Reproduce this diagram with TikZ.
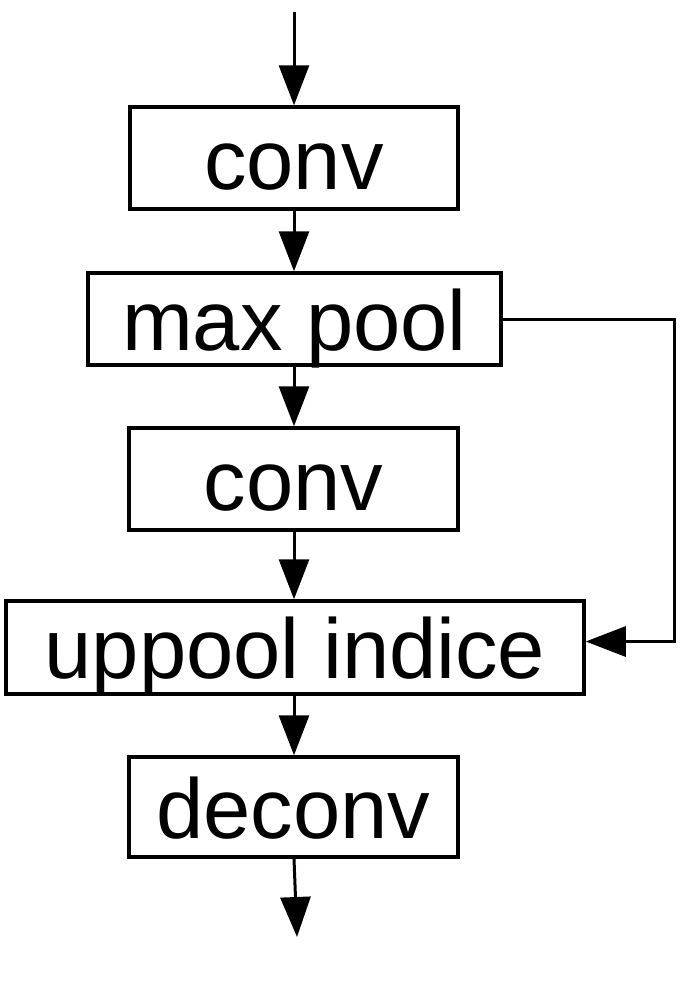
\documentclass[tikz,border=0pt]{standalone}
\usepackage{fontspec}
\setmainfont{Liberation Sans}
\usetikzlibrary{arrows.meta}
\begin{document}
\begin{tikzpicture}[x=1pt,y=-1pt,
  blk/.style={draw, line width=3.5pt, rectangle, inner sep=0pt, text height=62pt, text depth=0pt, font=\fontsize{85}{100}\selectfont},
  flow/.style={line width=3pt, -{Triangle[length=40pt,width=30pt]}}]
\useasboundingbox (0,0) rectangle (687,999);
\node[blk, minimum width=328pt, minimum height=102pt] (c1) at (294,158) {conv};
\node[blk, minimum width=413pt, minimum height=92pt] (mp) at (294.5,319) {max pool};
\node[blk, minimum width=329pt, minimum height=102pt] (c2) at (293.5,479) {conv};
\node[blk, minimum width=578pt, minimum height=93pt] (up) at (295,647.5) {uppool indice};
\node[blk, minimum width=329pt, minimum height=100pt] (dc) at (293.5,807) {deconv};
\coordinate (in) at (294,12);
\coordinate (out) at (297,937);
\coordinate (rx) at (674,0);
\coordinate (sideend) at ([yshift=6pt]up.east);
\draw[flow] (in) -- (in |- c1.north);
\draw[flow] (c1.south) -- (c1.south |- mp.north);
\draw[flow] (c1.south |- mp.south) -- (c1.south |- c2.north);
\draw[flow] (c1.south |- c2.south) -- (c1.south |- up.north);
\draw[flow] (c1.south |- up.south) -- (c1.south |- dc.north);
\draw[flow] (c1.south |- dc.south) -- (out);
\draw[flow] (mp.east) -- (mp.east -| rx) -- (rx |- sideend) -- (sideend);
\end{tikzpicture}
\end{document}
